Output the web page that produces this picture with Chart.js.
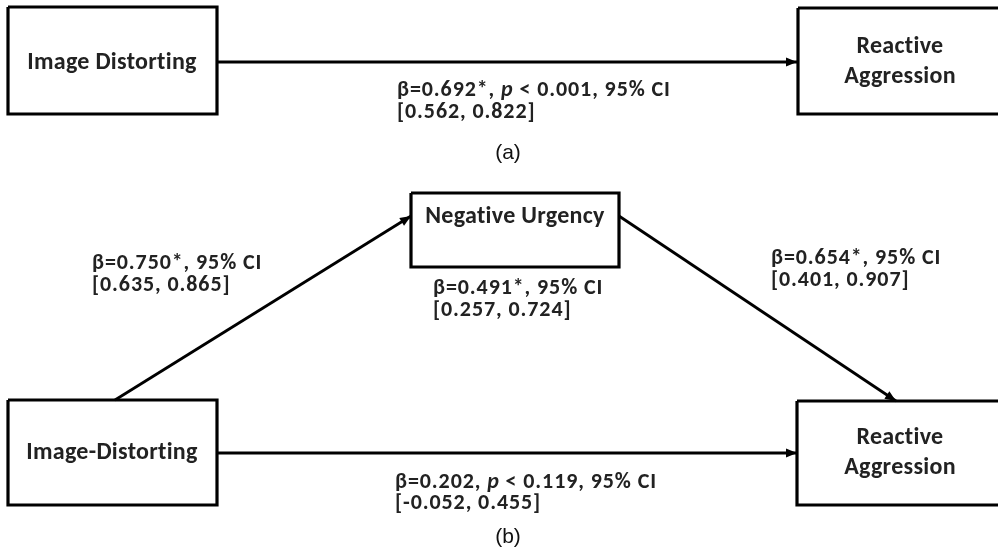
<!DOCTYPE html>
<html>
<head>
<meta charset="utf-8">
<script src="https://cdn.jsdelivr.net/npm/chart.js@4.4.1/dist/chart.umd.min.js"></script>
<style>
  html, body { margin: 0; padding: 0; background: #fff; }
  #wrap { width: 998px; height: 556px; }
</style>
</head>
<body>
<div id="wrap"><canvas id="c" width="998" height="556"></canvas></div>
<script>
// ---------- Data ----------
const variables = ['Image Distorting', 'Reactive Aggression', 'Negative Urgency', 'Image-Distorting', 'Reactive Aggression'];
const panels = ['(a)', '(b)'];
// paths: from-node index -> to-node index
const pathFrom = [0, 3, 2, 3];
const pathTo   = [1, 2, 4, 4];
// coefficients (panel a: total effect; panel b: a-path, indirect, b-path, direct)
const effectNames = ['total', 'a', 'indirect', 'b', 'direct'];
const betas   = [0.692, 0.750, 0.491, 0.654, 0.202];
const ciLow   = [0.562, 0.635, 0.257, 0.401, -0.052];
const ciHigh  = [0.822, 0.865, 0.724, 0.907, 0.455];
const pText   = ['< 0.001', null, null, null, '< 0.119'];
const signif  = [true, true, true, true, false];

// ---------- Layout (positions in a 998 x 556 data space) ----------
const boxes = [
  [8, 7, 217, 114],
  [798, 8, 1004, 114],
  [411, 193, 619, 267],
  [8, 400, 217, 505],
  [797, 401, 1004, 505]
];
const labelCenters = [[112, 63], [900, 62], [515, 217], [112, 453], [900, 453]];
const arrows = [
  [[217, 62], [797, 62]],
  [[115, 400], [411, 216]],
  [[619, 216], [896, 401]],
  [[217, 453], [797, 453]]
];
const effectLabelPos = [[397, 90, 22], [92, 263, 22], [433, 288, 22], [771, 258, 22], [395, 482, 21]];
const panelPos = [[508, 153], [508, 537]];

// ---------- Datasets ----------
const datasets = [];
boxes.forEach(b => {
  datasets.push({
    data: [{x:b[0],y:b[1]},{x:b[2],y:b[1]},{x:b[2],y:b[3]},{x:b[0],y:b[3]},{x:b[0],y:b[1]}],
    showLine: true, borderColor: '#000', borderWidth: 3.2, pointRadius: 0,
    fill: false, tension: 0, borderJoinStyle: 'miter', clip: false
  });
});
arrows.forEach(a => {
  datasets.push({
    data: a.map(p => ({x:p[0], y:p[1]})),
    showLine: true, borderColor: '#000', borderWidth: 2.8, pointRadius: 0,
    fill: false, tension: 0, isArrow: true
  });
});

function fmt(v) { return v.toFixed(3); }

const FONT = '"Carlito", "Lato", "Open Sans", sans-serif';

const diagramPlugin = {
  id: 'diagram',
  beforeDraw(chart) {
    const ctx = chart.ctx;
    ctx.save();
    ctx.fillStyle = '#fff';
    ctx.fillRect(0, 0, chart.width, chart.height);
    ctx.restore();
  },
  afterDatasetsDraw(chart) {
    const ctx = chart.ctx;
    const xs = chart.scales.x, ys = chart.scales.y;
    const px = v => xs.getPixelForValue(v), py = v => ys.getPixelForValue(v);
    ctx.save();
    // arrowheads
    chart.data.datasets.forEach(ds => {
      if (!ds.isArrow) return;
      const n = ds.data.length;
      const x1 = px(ds.data[n-2].x), y1 = py(ds.data[n-2].y);
      const x2 = px(ds.data[n-1].x), y2 = py(ds.data[n-1].y);
      const ang = Math.atan2(y2 - y1, x2 - x1);
      const L = 11, W = 4.5;
      ctx.fillStyle = '#000';
      ctx.beginPath();
      ctx.moveTo(x2, y2);
      ctx.lineTo(x2 - L*Math.cos(ang) + W*Math.sin(ang), y2 - L*Math.sin(ang) - W*Math.cos(ang));
      ctx.lineTo(x2 - L*Math.cos(ang) - W*Math.sin(ang), y2 - L*Math.sin(ang) + W*Math.cos(ang));
      ctx.closePath();
      ctx.fill();
    });
    // variable labels
    ctx.fillStyle = '#222';
    ctx.textAlign = 'center';
    ctx.textBaseline = 'middle';
    ctx.letterSpacing = '0.3px';
    ctx.font = 'bold 24px ' + FONT;
    variables.forEach((name, i) => {
      const [cx, cy] = labelCenters[i];
      let lines = [name];
      if (name === 'Reactive Aggression') lines = ['Reactive', 'Aggression'];
      const lh = 30;
      lines.forEach((ln, k) => {
        ctx.fillText(ln, px(cx), py(cy) + (k - (lines.length - 1) / 2) * lh);
      });
    });
    // effect labels
    ctx.textAlign = 'left';
    ctx.letterSpacing = '0.9px';
    effectNames.forEach((nm, i) => {
      const [lx, ly, lh] = effectLabelPos[i];
      const segs = [{t: 'β=' + fmt(betas[i]) + (signif[i] ? '*' : '') + ', ', it: false}];
      if (pText[i]) {
        segs.push({t: 'p', it: true});
        segs.push({t: ' ' + pText[i] + ', ', it: false});
      }
      segs.push({t: '95% CI', it: false});
      let x = px(lx);
      segs.forEach(s => {
        ctx.font = (s.it ? 'italic ' : '') + 'bold 22px ' + FONT;
        ctx.fillText(s.t, x, py(ly));
        x += ctx.measureText(s.t).width;
      });
      ctx.font = 'bold 22px ' + FONT;
      ctx.fillText('[' + fmt(ciLow[i]) + ', ' + fmt(ciHigh[i]) + ']', px(lx), py(ly) + lh);
    });
    // panel labels
    ctx.textAlign = 'center';
    ctx.letterSpacing = '0px';
    ctx.fillStyle = '#111';
    ctx.font = '21px "Liberation Sans", Arial, sans-serif';
    panels.forEach((p, i) => ctx.fillText(p, px(panelPos[i][0]), py(panelPos[i][1])));
    ctx.restore();
  }
};

new Chart(document.getElementById('c'), {
  type: 'scatter',
  data: { datasets },
  options: {
    responsive: false,
    animation: false,
    devicePixelRatio: 1,
    layout: { padding: 0 },
    scales: {
      x: { type: 'linear', min: 0, max: 998, display: false },
      y: { type: 'linear', min: 0, max: 556, reverse: true, display: false }
    },
    plugins: { legend: { display: false }, tooltip: { enabled: false } }
  },
  plugins: [diagramPlugin]
});
</script>
</body>
</html>
